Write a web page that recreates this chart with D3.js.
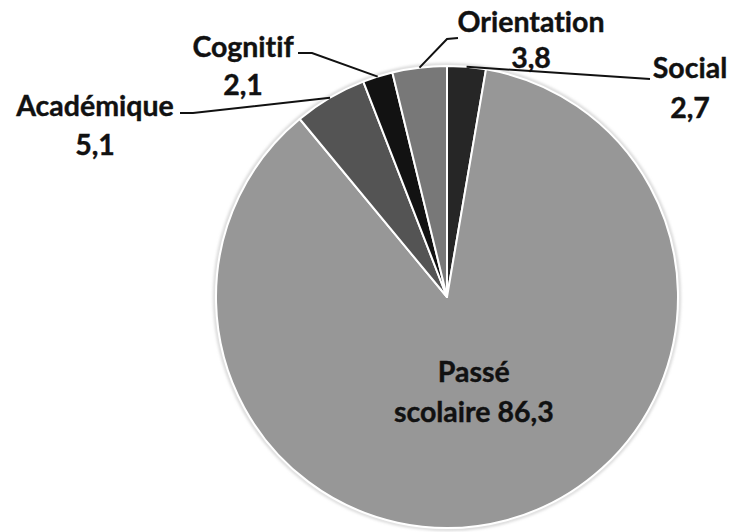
<!DOCTYPE html>
<html>
<head>
<meta charset="utf-8">
<script src="https://cdn.jsdelivr.net/npm/d3@7"></script>
<style>
  body { margin: 0; background: #fff; }
  text { font-family: Lato, "Open Sans", sans-serif; font-weight: 700; fill: #111; stroke: #111; stroke-width: 0.4;
         font-variant-ligatures: none; font-feature-settings: "liga" 0, "dlig" 0; }
</style>
</head>
<body>
<script>
// slices, clockwise from 12 o'clock
let categories = ['Social', 'Passé scolaire', 'Académique', 'Cognitif', 'Orientation'];
let values = [2.7, 86.3, 5.1, 2.1, 3.8];
let valueLabels = ['2,7', '86,3', '5,1', '2,1', '3,8'];
let colors = ['#262626', '#979797', '#545454', '#121212', '#787878'];

let width = 731;
let height = 532;
let cx = 447, cy = 297, radius = 231;
let fontSize = 28.5;

// where the outside labels sit and how their leader lines bend
let labelLayout = {
    'Social':      {x: 690, y: 78,  vy: 118, path: [[650, 79]]},
    'Académique':  {x: 95,  y: 116, vy: 155, path: [[193, 113], [180, 113]]},
    'Cognitif':    {x: 243, y: 57,  vy: 95,  path: [[312, 53], [298, 53]]},
    'Orientation': {x: 531, y: 32,  vy: 68,  path: [[447, 39], [458, 38]]}
};

let data = categories.map((c, i) => ({name: c, value: values[i], label: valueLabels[i], color: colors[i]}));

let svg = d3.select('body').append('svg')
    .attr('width', width)
    .attr('height', height);

let defs = svg.append('defs');
let shadow = defs.append('filter').attr('id', 'shadow')
    .attr('x', '-10%').attr('y', '-10%').attr('width', '120%').attr('height', '120%');
shadow.append('feGaussianBlur').attr('stdDeviation', 1.5);

let pie = d3.pie()
    .value(d => d.value)
    .sort(null);

let arcs = pie(data);

let arc = d3.arc()
    .innerRadius(0)
    .outerRadius(radius);

let g = svg.append('g')
    .attr('transform', `translate(${cx},${cy})`);

// soft halo round the pie
g.append('circle')
    .attr('r', radius + 1.5)
    .attr('fill', 'none')
    .attr('stroke', '#c4c4c4')
    .attr('stroke-width', 2)
    .attr('filter', 'url(#shadow)');

g.selectAll('path.slice')
    .data(arcs)
    .join('path')
    .attr('class', 'slice')
    .attr('d', arc)
    .attr('fill', d => d.data.color)
    .attr('stroke', '#fff')
    .attr('stroke-width', 2)
    .attr('stroke-linejoin', 'round');

// label inside the big slice
let innerArc = d3.arc()
    .innerRadius(radius * 0.45)
    .outerRadius(radius * 0.45);

let big = arcs[1];
let bc = innerArc.centroid(big);
let bigText = g.append('text')
    .attr('text-anchor', 'middle')
    .attr('font-size', fontSize);
bigText.append('tspan')
    .attr('x', bc[0])
    .attr('y', bc[1] - 15)
    .text('Passé');
bigText.append('tspan')
    .attr('x', bc[0])
    .attr('y', bc[1] + 25)
    .text('scolaire ' + big.data.label);

// outside labels
let outside = arcs.filter(d => labelLayout[d.data.name]);

svg.selectAll('text.name')
    .data(outside)
    .join('text')
    .attr('class', 'name')
    .attr('text-anchor', 'middle')
    .attr('font-size', fontSize)
    .attr('x', d => labelLayout[d.data.name].x)
    .attr('y', d => labelLayout[d.data.name].y)
    .text(d => d.data.name);

svg.selectAll('text.value')
    .data(outside)
    .join('text')
    .attr('class', 'value')
    .attr('text-anchor', 'middle')
    .attr('font-size', fontSize)
    .attr('x', d => labelLayout[d.data.name].x)
    .attr('y', d => labelLayout[d.data.name].vy)
    .text(d => d.data.label);

// leader lines start on the rim at the middle of each slice
let rim = d3.arc()
    .innerRadius(radius)
    .outerRadius(radius);

let line = d3.line();

svg.selectAll('path.leader')
    .data(outside)
    .join('path')
    .attr('class', 'leader')
    .attr('d', d => {
        let c = rim.centroid(d);
        let pts = [[cx + c[0], cy + c[1]]].concat(labelLayout[d.data.name].path);
        return line(pts);
    })
    .attr('fill', 'none')
    .attr('stroke', '#111')
    .attr('stroke-width', 2);
</script>
</body>
</html>
